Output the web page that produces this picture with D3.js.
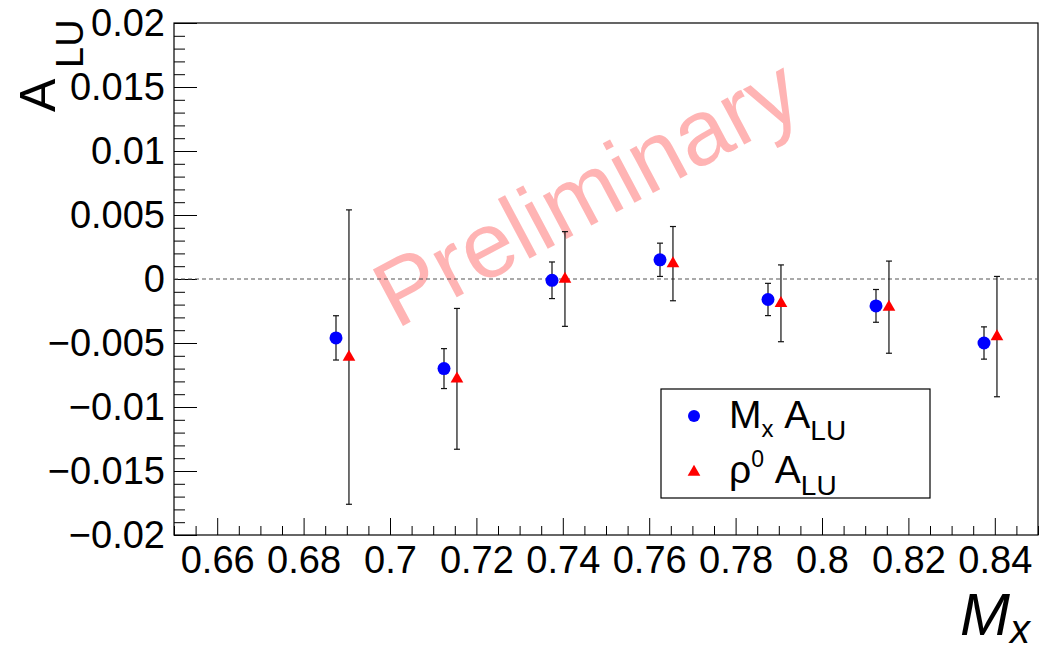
<!DOCTYPE html>
<html>
<head>
<meta charset="utf-8">
<script src="https://cdn.jsdelivr.net/npm/d3@7"></script>
<style>
  html, body { margin: 0; padding: 0; background: #fff; }
  svg { display: block; font-family: "Liberation Sans", Arial, Helvetica, sans-serif; }
</style>
</head>
<body>
<svg id="chart" width="1043" height="653"></svg>
<script>
// Missing-mass bins: M_x beam-spin asymmetry and rho0 beam-spin asymmetry
const mxBinCenters  = [0.6875, 0.7125, 0.7375, 0.7625, 0.7875, 0.8125, 0.8375];
const mxAlu         = [-0.0046, -0.0070, -0.0001, 0.0015, -0.0016, -0.0021, -0.0050];
const mxAluErr      = [0.00173, 0.00156, 0.00143, 0.0013, 0.00126, 0.00128, 0.00126];

const rhoBinCenters = [0.6905, 0.7155, 0.7405, 0.7655, 0.7905, 0.8155, 0.8405];
const rhoAlu        = [-0.0061, -0.0078, 0.0000, 0.0012, -0.0019, -0.0022, -0.0045];
const rhoAluErr     = [0.0115, 0.0055, 0.0037, 0.0029, 0.0030, 0.0036, 0.0047];

const xTickValues = [0.66, 0.68, 0.70, 0.72, 0.74, 0.76, 0.78, 0.80, 0.82, 0.84];
const xTickLabels = ["0.66", "0.68", "0.7", "0.72", "0.74", "0.76", "0.78", "0.8", "0.82", "0.84"];
const yTickValues = [-0.02, -0.015, -0.01, -0.005, 0, 0.005, 0.01, 0.015, 0.02];
const yTickLabels = ["\u22120.02", "\u22120.015", "\u22120.01", "\u22120.005", "0", "0.005", "0.01", "0.015", "0.02"];

const frame = { left: 174, top: 23, right: 1038, bottom: 535 };
const svg = d3.select("#chart");

const x = d3.scaleLinear().domain([0.65, 0.85]).range([frame.left, frame.right]);
const y = d3.scaleLinear().domain([-0.02, 0.02]).range([frame.bottom, frame.top]);

// Minor tick positions
const xMinor = d3.range(0, 41).map(i => 0.65 + i * 0.005).filter(v => !xTickValues.some(t => Math.abs(t - v) < 1e-9));
const yMinor = d3.range(0, 41).map(i => -0.02 + i * 0.001).filter(v => !yTickValues.some(t => Math.abs(t - v) < 1e-9));

// Watermark
svg.append("text")
  .attr("transform", `translate(${x(0.7455)},${y(0.0068)}) rotate(-28)`)
  .attr("text-anchor", "middle")
  .attr("dominant-baseline", "central")
  .attr("font-size", 93)
  .attr("fill", "#ffb4b4")
  .text("Preliminary");

// Axes (ticks drawn inward)
const xAxisMajor = d3.axisBottom(x).tickValues(xTickValues)
  .tickFormat((d, i) => xTickLabels[i]).tickSizeInner(-17).tickSizeOuter(0).tickPadding(11);
const xAxisMinor = d3.axisBottom(x).tickValues(xMinor).tickFormat("").tickSizeInner(-9).tickSizeOuter(0);
const yAxisMajor = d3.axisLeft(y).tickValues(yTickValues)
  .tickFormat((d, i) => yTickLabels[i]).tickSizeInner(-23).tickSizeOuter(0).tickPadding(9);
const yAxisMinor = d3.axisLeft(y).tickValues(yMinor).tickFormat("").tickSizeInner(-11).tickSizeOuter(0);

function styleAxis(g) {
  g.select(".domain").remove();
  g.selectAll(".tick line").attr("stroke", "#000").attr("stroke-width", 1);
  g.selectAll(".tick text").attr("fill", "#000").attr("font-size", 38)
    .attr("font-family", "\"Liberation Sans\", Arial, Helvetica, sans-serif");
}
svg.append("g").attr("transform", `translate(0,${frame.bottom})`).call(xAxisMinor).call(styleAxis);
svg.append("g").attr("transform", `translate(0,${frame.bottom})`).call(xAxisMajor).call(styleAxis);
svg.append("g").attr("transform", `translate(${frame.left},0)`).call(yAxisMinor).call(styleAxis);
svg.append("g").attr("transform", `translate(${frame.left},0)`).call(yAxisMajor).call(styleAxis);

// Frame
svg.append("rect")
  .attr("x", frame.left).attr("y", frame.top)
  .attr("width", frame.right - frame.left).attr("height", frame.bottom - frame.top)
  .attr("fill", "none").attr("stroke", "#000").attr("stroke-width", 1.2);

// Zero line
svg.append("line")
  .attr("x1", x(0.65)).attr("x2", x(0.85))
  .attr("y1", y(0)).attr("y2", y(0))
  .attr("stroke", "#555").attr("stroke-width", 1.2).attr("stroke-dasharray", "4,3");

// Error bars
function errorBars(xs, vals, errs) {
  const g = svg.append("g").attr("stroke", "#111").attr("stroke-width", 1.2);
  xs.forEach((xv, i) => {
    const cx = x(xv), lo = y(vals[i] - errs[i]), hi = y(vals[i] + errs[i]);
    g.append("line").attr("x1", cx).attr("x2", cx).attr("y1", lo).attr("y2", hi);
    g.append("line").attr("x1", cx - 3).attr("x2", cx + 3).attr("y1", lo).attr("y2", lo);
    g.append("line").attr("x1", cx - 3).attr("x2", cx + 3).attr("y1", hi).attr("y2", hi);
  });
}
errorBars(mxBinCenters, mxAlu, mxAluErr);
errorBars(rhoBinCenters, rhoAlu, rhoAluErr);

const circleSym = d3.symbol().type(d3.symbolCircle).size(Math.PI * 6.5 * 6.5);
const triSym = d3.symbol().type(d3.symbolTriangle).size(70);

svg.append("g").selectAll("path").data(mxBinCenters).join("path")
  .attr("transform", (d, i) => `translate(${x(d)},${y(mxAlu[i])})`)
  .attr("d", circleSym).attr("fill", "#0000ff");

svg.append("g").selectAll("path").data(rhoBinCenters).join("path")
  .attr("transform", (d, i) => `translate(${x(d)},${y(rhoAlu[i])})`)
  .attr("d", triSym).attr("fill", "#ff0000");

// Legend
const legend = svg.append("g");
legend.append("rect").attr("x", 661).attr("y", 389).attr("width", 269).attr("height", 109)
  .attr("fill", "#fff").attr("stroke", "#000").attr("stroke-width", 1.2);
legend.append("path").attr("transform", "translate(694,416)")
  .attr("d", d3.symbol().type(d3.symbolCircle).size(Math.PI * 36)).attr("fill", "#0000ff");
legend.append("path").attr("transform", "translate(694,472)")
  .attr("d", triSym).attr("fill", "#ff0000");

const t1 = legend.append("text").attr("x", 729).attr("y", 428).attr("font-size", 39).attr("fill", "#000");
t1.append("tspan").text("M");
t1.append("tspan").attr("font-size", 24).attr("dy", 9).text("x");
t1.append("tspan").attr("dy", -9).text("\u00a0A");
t1.append("tspan").attr("font-size", 28).attr("dy", 12).text("LU");

const t2 = legend.append("text").attr("x", 729).attr("y", 483).attr("font-size", 39).attr("fill", "#000");
t2.append("tspan").text("\u03c1");
t2.append("tspan").attr("font-size", 23).attr("dy", -16).text("0");
t2.append("tspan").attr("dy", 16).text("\u00a0A");
t2.append("tspan").attr("font-size", 28).attr("dy", 12).text("LU");

// Axis titles
svg.append("text").attr("x", 1030).attr("y", 635).attr("text-anchor", "end")
  .attr("font-size", 60).attr("font-style", "italic").attr("fill", "#000")
  .call(t => {
    t.append("tspan").text("M");
    t.append("tspan").attr("font-size", 40).attr("dy", 8).text("x");
  });

const yTitle = svg.append("g").attr("transform", "translate(55,112) rotate(-90)");
yTitle.append("text").attr("x", 0).attr("y", 0).attr("font-size", 50).attr("fill", "#000").text("A");
yTitle.append("text").attr("x", 44).attr("y", 28).attr("font-size", 38).attr("fill", "#000").text("LU");
</script>
</body>
</html>
